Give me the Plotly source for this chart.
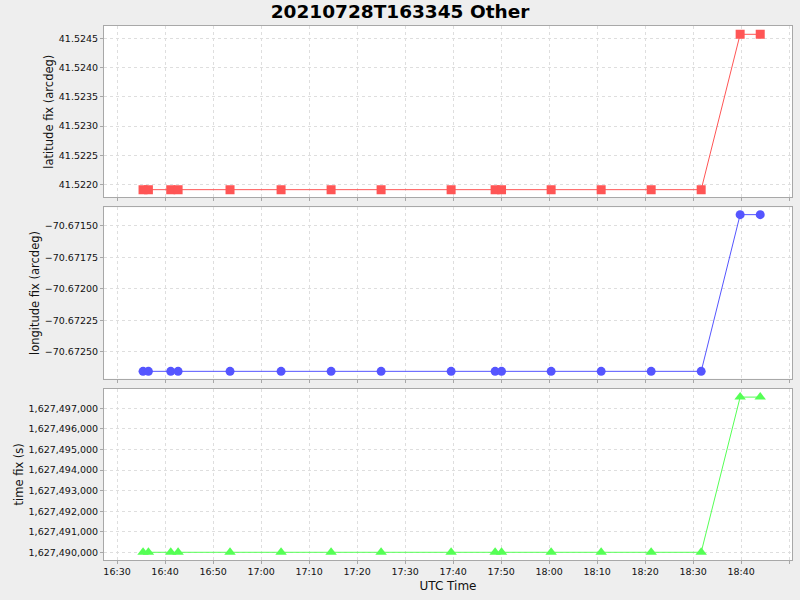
import plotly.graph_objects as go
from plotly.subplots import make_subplots

times = ["2021-07-28 16:35:25", "2021-07-28 16:36:32", "2021-07-28 16:41:11", "2021-07-28 16:42:43",
         "2021-07-28 16:53:32", "2021-07-28 17:04:10", "2021-07-28 17:14:35", "2021-07-28 17:25:00",
         "2021-07-28 17:39:35", "2021-07-28 17:48:45", "2021-07-28 17:50:05", "2021-07-28 18:00:25",
         "2021-07-28 18:10:50", "2021-07-28 18:21:15", "2021-07-28 18:31:40", "2021-07-28 18:39:47",
         "2021-07-28 18:43:58"]
latitude = [41.521915] * 15 + [41.524568] * 2
longitude = [-70.672654] * 15 + [-70.671413] * 2
time_fix = [1627490000] * 15 + [1627497550] * 2

title = "20210728T163345 Other"
font = "DejaVu Sans"

fig = make_subplots(rows=3, cols=1, shared_xaxes=True, vertical_spacing=10 / 534)

fig.add_trace(go.Scatter(x=times, y=latitude, mode="lines+markers",
                         line=dict(color="#FF5555", width=1),
                         marker=dict(symbol="square", size=9, color="#FF5555")), row=1, col=1)
fig.add_trace(go.Scatter(x=times, y=longitude, mode="lines+markers",
                         line=dict(color="#5555FF", width=1),
                         marker=dict(symbol="circle", size=9, color="#5555FF")), row=2, col=1)
fig.add_trace(go.Scatter(x=times, y=time_fix, mode="lines+markers",
                         line=dict(color="#55FF55", width=1),
                         marker=dict(symbol="triangle-up", size=10, color="#55FF55")), row=3, col=1)

axis_common = dict(showgrid=True, gridcolor="#dedede", griddash="3px,3px", gridwidth=1,
                   showline=True, linecolor="#a8a8a8", linewidth=1, mirror=True,
                   ticks="outside", ticklen=3, tickcolor="#a8a8a8", zeroline=False, automargin=False,
                   tickfont=dict(family=font, size=9.5, color="#111111"))
title_font = dict(family=font, size=11.5, color="#111111")

for r in (1, 2, 3):
    fig.update_xaxes(range=["2021-07-28 16:27:17", "2021-07-28 18:50:35"], dtick=600000,
                     tick0="2021-07-28 16:30:00", tickformat="%H:%M", row=r, col=1, **axis_common)
fig.update_xaxes(title=dict(text="UTC Time", font=dict(family=font, size=12, color="#111111"), standoff=5),
                 row=3, col=1)

fig.update_yaxes(range=[41.521784, 41.52471], dtick=0.0005, tick0=41.522, tickformat=".4f",
                 title=dict(text="latitude fix (arcdeg)", font=title_font, standoff=2),
                 row=1, col=1, **axis_common)
fig.update_yaxes(range=[-70.672712, -70.671355], dtick=0.00025, tick0=-70.6725, tickformat=".5f",
                 title=dict(text="longitude fix (arcdeg)", font=title_font, standoff=2),
                 row=2, col=1, **axis_common)
fig.update_yaxes(range=[1627489625, 1627497960], dtick=1000, tick0=1627490000, tickformat=",d",
                 title=dict(text="time fix (s)", font=title_font, standoff=2),
                 row=3, col=1, **axis_common)

fig.update_layout(
    width=800, height=600,
    margin=dict(l=104, r=8, t=26, b=40),
    paper_bgcolor="#eeeeee", plot_bgcolor="#ffffff",
    showlegend=False,
    title=dict(text="<b>" + title + "</b>", x=0.5, xanchor="center", y=1 - 12 / 600, yanchor="middle",
               font=dict(family=font, size=18.5, color="#000000")),
)

fig.write_html("out.html", config={"displayModeBar": False},
               post_script="document.body.style.margin='0';document.body.style.padding='0';"
                           "document.body.style.background='#eeeeee';")
